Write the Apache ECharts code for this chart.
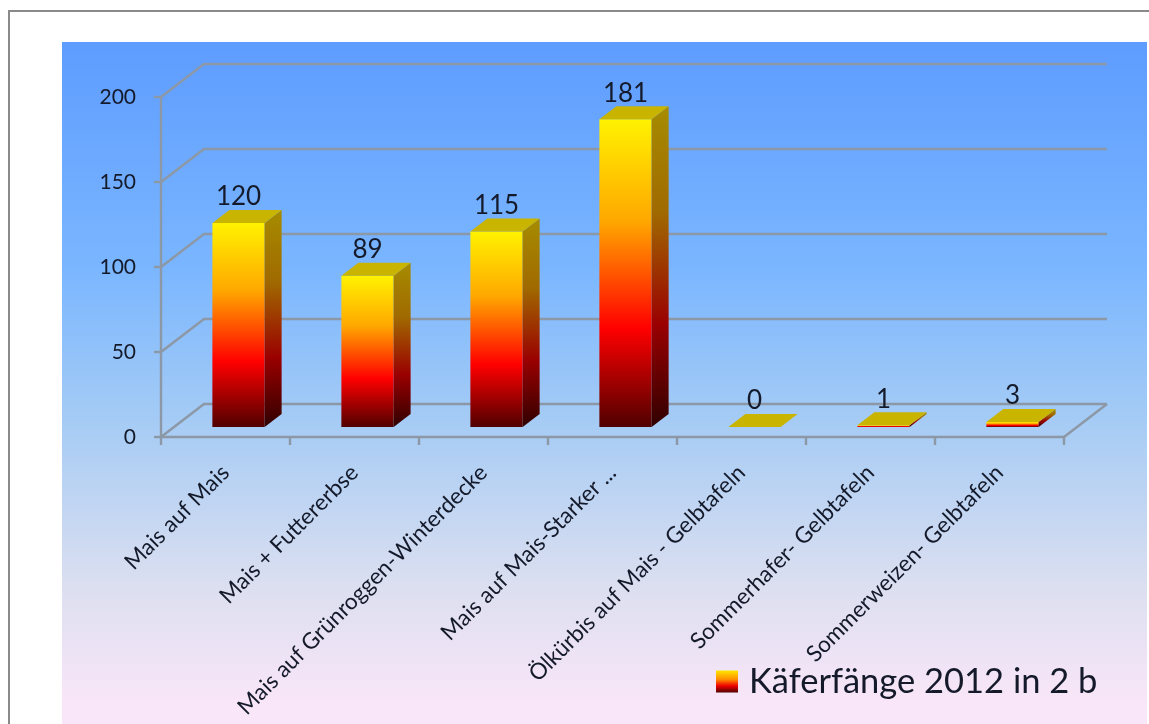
<!DOCTYPE html>
<html><head><meta charset="utf-8">
<style>html,body{margin:0;padding:0;background:#fff}#c{width:1149px;height:724px}</style>
<script src="https://cdn.jsdelivr.net/npm/echarts@6/dist/echarts.min.js"></script>
</head><body><div id="c"></div>
<script>
const categories = ['Mais auf Mais','Mais + Futtererbse','Mais auf Grünroggen-Winterdecke','Mais auf Mais-Starker ...','Ölkürbis auf Mais - Gelbtafeln','Sommerhafer- Gelbtafeln','Sommerweizen- Gelbtafeln'];
const values = [120,89,115,181,0,1,3];
const yTicks = [0,50,100,150,200];
const seriesName = 'Käferfänge 2012 in 2 b';

const FONT = 'Lato, "Open Sans", sans-serif';
const TEXT = '#141a2a', AXIS = '#8d98a6';
const WALL = [43,-33], FRONT = [13,-10], DEPTH = [17,-13];
const grad = (stops) => new echarts.graphic.LinearGradient(0,0,0,1,stops.map((c,i)=>({offset:c[0],color:c[1]})));
const frontFill = () => grad([[0,'#fff200'],[0.33,'#ffa800'],[0.68,'#ff0000'],[1,'#500000']]);
const sideFill = () => grad([[0,'#a68c00'],[0.33,'#a06a00'],[0.68,'#9a0000'],[1,'#300000']]);

const chart = echarts.init(document.getElementById('c'),null,{renderer:'canvas'});
chart.setOption({
  animation:false,
  textStyle:{fontFamily:FONT},
  graphic:{elements:[
    {type:'rect',z:-100,silent:true,shape:{x:9,y:11,width:1300,height:900},style:{fill:'#fff',stroke:'#8a8a8a',lineWidth:2}},
    {type:'rect',z:-99,silent:true,shape:{x:62,y:42,width:1085,height:682},style:{fill:grad([[0,'#5e9cff'],[0.33,'#7ab6ff'],[0.55,'#a4cbf5'],[0.8,'#dcdff0'],[0.97,'#f9e6f8'],[1,'#f9e6f8']])}}
  ]},
  grid:{left:161,right:85,top:97,bottom:287,containLabel:false},
  legend:{
    data:[{name:seriesName,icon:'rect',itemStyle:{color:grad([[0,'#ffe600'],[0.4,'#ff9000'],[0.7,'#ee0000'],[1,'#500000']])}}],
    left:711,top:659,itemWidth:22,itemHeight:22,itemGap:12,
    textStyle:{fontFamily:FONT,fontSize:34.5,color:TEXT,padding:[0,0,0,6]}
  },
  xAxis:{type:'category',data:categories,
    axisLine:{show:true,lineStyle:{color:AXIS,width:2.4}},
    axisTick:{show:true,alignWithLabel:false,length:8,lineStyle:{color:AXIS,width:2.4}},
    axisLabel:{interval:0,rotate:45,margin:32,fontFamily:FONT,fontSize:22.5,color:TEXT},
    splitLine:{show:false}},
  yAxis:{type:'value',min:0,max:200,interval:50,
    axisLine:{show:true,lineStyle:{color:AXIS,width:2.4}},
    axisTick:{show:true,length:7,lineStyle:{color:AXIS,width:2.4}},
    axisLabel:{margin:25,fontFamily:FONT,fontSize:21,color:TEXT},
    splitLine:{show:false}},
  series:[
    {type:'custom',name:'walls',silent:true,z:1,data:yTicks.map(v=>[0,v]),encode:{x:0,y:1},
     renderItem(params,api){
       const c=params.coordSys, y=api.coord([0,api.value(1)])[1];
       const ln={stroke:AXIS,lineWidth:2.4,fill:null};
       const kids=[{type:'polyline',shape:{points:[[c.x,y],[c.x+WALL[0],y+WALL[1]],[c.x+c.width+WALL[0],y+WALL[1]]]},style:ln}];
       if(api.value(1)===0) kids.push({type:'line',shape:{x1:c.x+c.width,y1:y,x2:c.x+c.width+WALL[0],y2:y+WALL[1]},style:ln});
       return {type:'group',children:kids};
     }},
    {type:'custom',name:seriesName,z:5,clip:false,
     itemStyle:{color:'#ff9000'},
     data:values.map((v,i)=>[i,v]),encode:{x:0,y:1},
     renderItem(params,api){
       const v=api.value(1), t=api.coord([api.value(0),v]), b=api.coord([api.value(0),0]);
       const w=api.size([1,0])[0]*0.405;
       const x0=t[0]-w/2+FRONT[0], x1=x0+w, yt=t[1]+FRONT[1], yb=b[1]+FRONT[1];
       const [dx,dy]=DEPTH;
       const kids=[];
       if(v>0){
         kids.push({type:'rect',shape:{x:x0,y:yt,width:w,height:yb-yt},style:{fill:frontFill()}});
         kids.push({type:'polygon',shape:{points:[[x1,yt],[x1+dx,yt+dy],[x1+dx,yb+dy],[x1,yb]]},style:{fill:sideFill()}});
       }
       kids.push({type:'polygon',shape:{points:[[x0,yt],[x0+dx,yt+dy],[x1+dx,yt+dy],[x1,yt]]},style:{fill:'#c9b400'}});
       kids.push({type:'text',z2:20,style:{text:String(v),x:(x0+x1)/2,y:yt+dy-13,align:'center',verticalAlign:'middle',fontFamily:FONT,fontSize:26,fill:TEXT}});
       return {type:'group',children:kids};
     }}
  ]
});
</script></body></html>
